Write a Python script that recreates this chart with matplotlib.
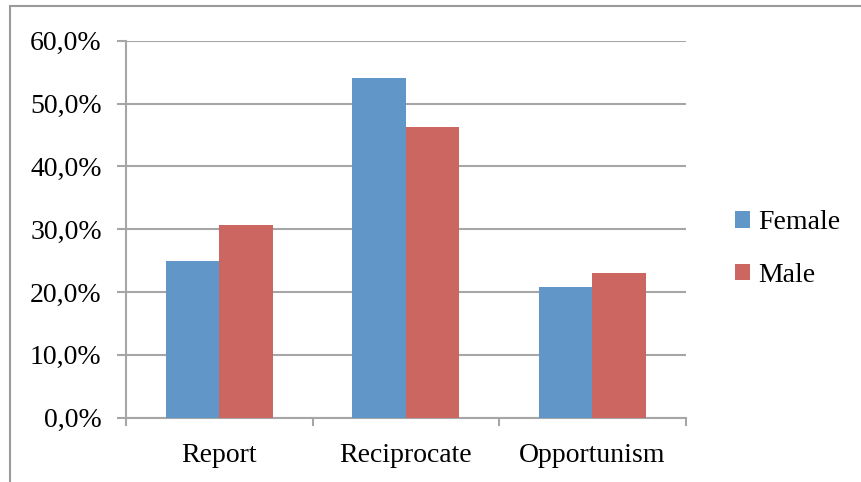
import numpy as np
import matplotlib
matplotlib.use("Agg")
import matplotlib.pyplot as plt
from matplotlib.patches import Rectangle

categories = ["Report", "Reciprocate", "Opportunism"]
female = [25.0, 54.1, 20.8]
male = [30.6, 46.2, 23.0]
yticks = [0, 10, 20, 30, 40, 50, 60]

blue = "#6196C9"
red = "#CC6661"
grid_col = "#A6A6A6"

plt.rcParams["font.family"] = ["Liberation Serif", "DejaVu Serif"]
fs = 20

W, H = 862, 482
fig = plt.figure(figsize=(W / 100, H / 100), dpi=100)

# chart frame
fig.patches.append(Rectangle((10 / W, -0.1), 1.0, (H - 6) / H + 0.1,
                             transform=fig.transFigure, fill=False,
                             edgecolor="#9A9A9A", linewidth=1.5))

ax = fig.add_axes([126 / W, 1 - 417.7 / H, (685.7 - 126) / W, (417.7 - 40.7) / H])

x = np.arange(len(categories))
w = 0.286
ax.bar(x - w / 2, female, w, color=blue, label="Female", zorder=3)
ax.bar(x + w / 2, male, w, color=red, label="Male", zorder=3)

ax.set_xlim(-0.5, len(categories) - 0.5)
ax.set_ylim(0, 60)
ax.set_yticks(yticks)
ax.set_yticklabels([f"{v},0%" for v in yticks], fontsize=fs)
ax.set_xticks(x)
ax.set_xticklabels(categories, fontsize=fs)
ax.tick_params(axis="x", length=0, pad=18)
ax.tick_params(axis="y", length=6.5, color=grid_col, width=1.5, pad=11)

# category separators on the x axis
ax.set_xticks(np.arange(len(categories) + 1) - 0.5, minor=True)
ax.tick_params(axis="x", which="minor", length=6, color=grid_col, width=1.5)

ax.yaxis.grid(True, color=grid_col, linewidth=1.5, zorder=0)
for side in ["top", "right"]:
    ax.spines[side].set_visible(False)
for side in ["left", "bottom"]:
    ax.spines[side].set_color(grid_col)
    ax.spines[side].set_linewidth(1.5)
ax.set_axisbelow(True)

leg = fig.legend(loc="upper left", bbox_to_anchor=(735 / W, 1 - 210 / H),
                 frameon=False, fontsize=fs, handlelength=0.55, handleheight=0.55,
                 handletextpad=0.3, labelspacing=1.0, borderpad=0, borderaxespad=0)

fig.savefig("out.png", dpi=100)
